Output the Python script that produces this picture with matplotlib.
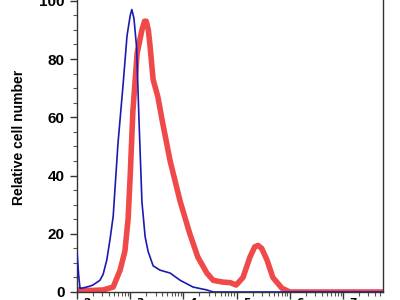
import matplotlib
matplotlib.use("Agg")
import matplotlib.pyplot as plt
import numpy as np
from matplotlib.ticker import MultipleLocator, LogLocator, FixedLocator

plt.rcParams['font.family'] = ['Liberation Sans', 'DejaVu Sans']

# x positions in decades (log10 of fluorescence intensity)
blue_log = [2.00, 2.03, 2.056, 2.094, 2.244, 2.30, 2.43, 2.49, 2.56, 2.62, 2.68, 2.77,
            2.865, 2.94, 3.00, 3.03, 3.07, 3.12, 3.165, 3.22, 3.28, 3.335, 3.43, 3.56, 3.75, 3.94,
            4.18, 4.44, 4.56, 5.5, 6.5, 7.75]
blue_y = [14, 6, 1.3, 1.3, 2.0, 2.4, 4, 6, 11, 18, 26, 51,
          71, 88, 95, 97, 94, 84, 59, 31, 19, 14, 9, 7.5, 6.5, 4,
          1.7, 0.7, 0, 0, 0, 0]

red_log = [2.00, 2.24, 2.49, 2.68, 2.81, 2.90, 2.96, 3.00, 3.05, 3.13, 3.22, 3.27, 3.30,
           3.34, 3.37, 3.43, 3.52, 3.60, 3.75, 3.94, 4.12, 4.27, 4.44, 4.56, 4.74, 4.88,
           4.99, 5.12, 5.25, 5.34, 5.40, 5.47, 5.57, 5.68, 5.85, 6.00, 7.75]
red_y = [0.8, 0.5, 0.7, 1.7, 7.5, 14, 25, 40, 62, 82, 90, 93, 93,
         90, 85, 73, 67, 59, 45, 31, 20, 12, 6.5, 4, 3.4, 3.2,
         2.4, 5, 12, 15.5, 16, 15, 11, 5, 1.3, 0, 0]

y_ticks = [0, 20, 40, 60, 80, 100]
x_decades = [2, 3, 4, 5, 6, 7]

fig = plt.figure(figsize=(4, 3), dpi=100)
ax = fig.add_axes([0.1925, 0.0267, 0.765, 0.99])

ax.plot(10 ** np.array(blue_log), blue_y, color='#1a1ab4', lw=1.2, zorder=3,
        solid_joinstyle='round')
ax.plot(10 ** np.array(red_log), red_y, color='#ee3535', lw=4.0, alpha=0.9,
        solid_capstyle='round', solid_joinstyle='round', zorder=2)

ax.set_xscale('log')
ax.set_xlim(10 ** 2, 10 ** 7.75)
ax.set_ylim(0, 102)

ax.set_yticks(y_ticks)
ax.set_yticklabels([str(v) for v in y_ticks], fontweight='bold', fontsize=11)
ax.yaxis.set_minor_locator(MultipleLocator(5))

ax.xaxis.set_major_locator(FixedLocator([10 ** d for d in x_decades]))
ax.xaxis.set_minor_locator(LogLocator(base=10, subs=np.arange(2, 10)))
ax.set_xticklabels([r'$\mathbf{10^{%d}}$' % d for d in x_decades], fontsize=11)

ax.tick_params(axis='y', which='major', length=5, width=1, pad=4, color='#333333')
ax.tick_params(axis='y', which='minor', length=3, width=0.8, color='#555555')
ax.tick_params(axis='x', which='major', length=5, width=1, pad=-1, color='#333333')
ax.tick_params(axis='x', which='minor', length=3, width=0.8, color='#555555')

for s in ax.spines.values():
    s.set_color('#333333')
    s.set_linewidth(1.0)

ax.set_ylabel('Relative cell number', fontsize=10, fontweight='bold')
ax.yaxis.set_label_coords(-0.167, 0.52)

fig.savefig('out.png', dpi=100)
